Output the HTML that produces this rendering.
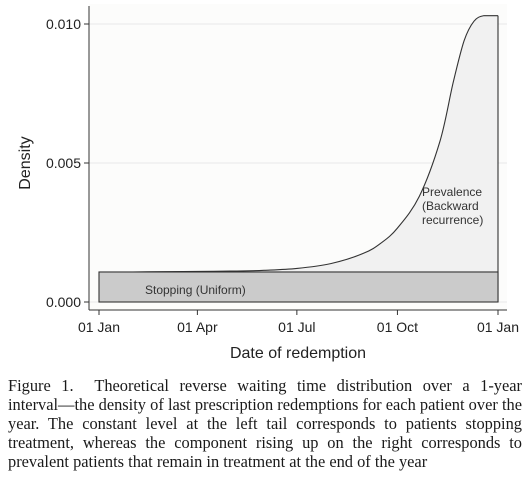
<!DOCTYPE html>
<html><head><meta charset="utf-8"><style>
body{margin:0;background:#fff;width:531px;height:487px;overflow:hidden}
#cap{position:absolute;left:8px;top:376px;width:514px;font-family:"Liberation Serif",serif;font-size:16.4px;line-height:19px;text-align:justify;color:#1a1a1a}
#cap .l1{display:block;text-align-last:justify}
</style></head><body>
<svg id="chart" width="531" height="370" style="position:absolute;left:0;top:0" font-family="Liberation Sans, sans-serif"></svg>
<div id="cap"><span class="l1">Figure 1.&nbsp; Theoretical reverse waiting time distribution over a 1-year</span>interval—the density of last prescription redemptions for each patient over the year. The constant level at the left tail corresponds to patients stopping treatment, whereas the component rising up on the right corresponds to prevalent patients that remain in treatment at the end of the year</div>
<script>
const days=[0,31,59,90,120,151,181,212,242,258,273,293,312,324,334,343,352,365];
const density=[0.00108,0.00108,0.00109,0.00110,0.00111,0.00114,0.00121,0.00138,0.00175,0.00212,0.00266,0.0038,0.0058,0.0079,0.0094,0.0101,0.0103,0.0103];
const uniformLevel=0.00108;
const yTicks=[0,0.005,0.010];
const yTickLabels=["0.000","0.005","0.010"];
const xTickDays=[0,90,181,273,365];
const xTickLabels=["01 Jan","01 Apr","01 Jul","01 Oct","01 Jan"];
const ns="http://www.w3.org/2000/svg";
const svg=document.getElementById('chart');
const X=d=>99+d*(498-99)/365;
const Y=v=>302-v*(302-24)/0.010;
function mk(t,a,p){const e=document.createElementNS(ns,t);for(const k in a)e.setAttribute(k,a[k]);(p||svg).appendChild(e);return e;}
function smooth(){
 const P=days.map((dd,i)=>[X(dd),Y(density[i])]);
 let s='M'+P[0][0].toFixed(1)+','+P[0][1].toFixed(1);
 for(let i=0;i<P.length-1;i++){
  const p0=P[Math.max(0,i-1)],p1=P[i],p2=P[i+1],p3=P[Math.min(P.length-1,i+2)];
  let c1y=p1[1]+(p2[1]-p0[1])/6,c2y=p2[1]-(p3[1]-p1[1])/6;
  const lo=Math.min(p1[1],p2[1]),hi=Math.max(p1[1],p2[1]);
  c1y=Math.min(hi,Math.max(lo,c1y));c2y=Math.min(hi,Math.max(lo,c2y));
  const c1x=p1[0]+(p2[0]-p0[0])/6,c2x=p2[0]-(p3[0]-p1[0])/6;
  s+=' C'+c1x.toFixed(1)+','+c1y.toFixed(1)+' '+c2x.toFixed(1)+','+c2y.toFixed(1)+' '+p2[0].toFixed(1)+','+p2[1].toFixed(1);
 }
 return s;
}
mk('rect',{x:0,y:0,width:531,height:370,fill:'#fff'});
mk('rect',{x:89,y:4,width:418,height:306,fill:'#fcfcfb'});
yTicks.forEach((v,i)=>{
 const g=mk('line',{x1:89,x2:507,y1:Y(v),y2:Y(v),stroke:'#e8e8e8','stroke-width':1});
 
 
 mk('line',{x1:84,x2:89,y1:Y(v),y2:Y(v),stroke:'#333'});
 const t=mk('text',{x:81,y:Y(v)+5,'text-anchor':'end','font-size':14,fill:'#222'});t.textContent=yTickLabels[i];
 
 
});
const curve=smooth();
const pa=mk('path',{d:curve+' L'+X(365)+','+Y(uniformLevel)+' L'+X(0)+','+Y(uniformLevel)+' Z',fill:'#f1f1f1',stroke:'none'});


const pl=mk('path',{d:curve,fill:'none',stroke:'#333','stroke-width':1.1,'stroke-linejoin':'round'});


mk('line',{x1:X(365),x2:X(365),y1:Y(density[density.length-1]),y2:Y(0),stroke:'#333','stroke-width':1.1});
const ur=mk('rect',{x:X(0),y:Y(uniformLevel),width:X(365)-X(0),height:Y(0)-Y(uniformLevel),fill:'#cbcbcb',stroke:'#333','stroke-width':1.1});


mk('line',{x1:89,x2:89,y1:6,y2:310,stroke:'#333'});
mk('line',{x1:89,x2:507,y1:310,y2:310,stroke:'#333'});
xTickDays.forEach((dd,i)=>{
 mk('line',{x1:X(dd),x2:X(dd),y1:310,y2:315,stroke:'#333'});
 const t=mk('text',{x:X(dd),y:332,'text-anchor':'middle','font-size':14,fill:'#222'});t.textContent=xTickLabels[i];
 
 
});
const xt=mk('text',{x:298,y:358,'text-anchor':'middle','font-size':16,fill:'#222'});xt.textContent='Date of redemption';


const yt=mk('text',{x:30,y:163,'text-anchor':'middle','font-size':16,fill:'#222',transform:'rotate(-90 30 163)'});yt.textContent='Density';


const s=mk('text',{x:145,y:294,'font-size':12,fill:'#333'});s.textContent='Stopping (Uniform)';


['Prevalence','(Backward','recurrence)'].forEach((w,i)=>{const t=mk('text',{x:422,y:196+i*14,'font-size':12,fill:'#333'});t.textContent=w;
 
 });
</script>
</body></html>
